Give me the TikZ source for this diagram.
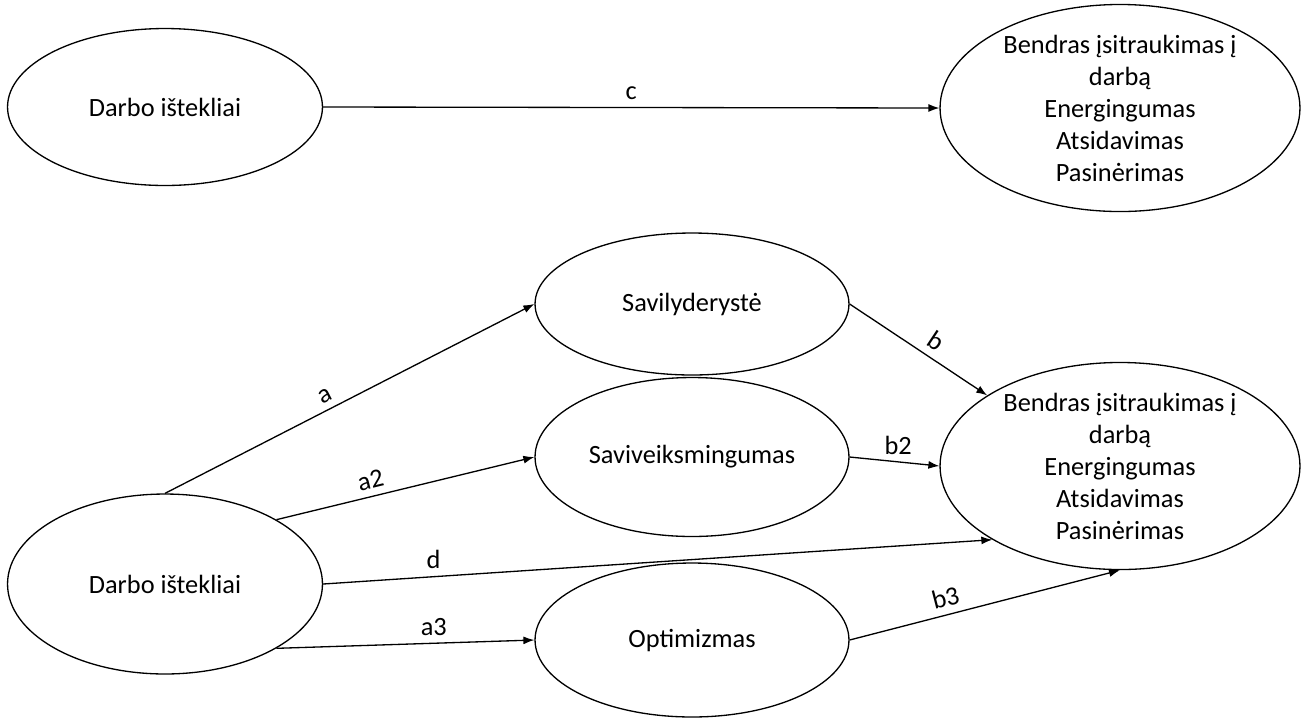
\documentclass[tikz,border=0pt]{standalone}
\usepackage{fontspec}
\setmainfont{Carlito}
\usetikzlibrary{arrows.meta,shapes.geometric}

\tikzset{
  var/.style={draw,ellipse,inner sep=0pt,align=center,
    font=\fontsize{15}{18.2}\selectfont},
  path/.style={-{Latex[length=2.2mm,width=1.6mm]}},
  lbl/.style={font=\fontsize{15}{18}\selectfont,inner sep=4pt}
}

\begin{document}
\begin{tikzpicture}[x=0.02cm,y=-0.02cm,line width=0.75pt]
    \useasboundingbox (0,0) rectangle (1305,718);
    % total effect
    \node[var,minimum width=6.3cm,minimum height=3.14cm] (resTop) at (165,107) {Darbo ištekliai};
    \node[var,minimum width=7.2cm,minimum height=3.98cm] (engTop) at (1120,108)
      {Bendras įsitraukimas į\\darbą\\Energingumas\\Atsidavimas\\Pasinėrimas};
    \draw[path] (resTop.east) -- (engTop.west) node[midway,above,lbl]{c};
    % mediators
    \node[var,minimum width=6.3cm,minimum height=3.6cm] (res) at (165,584) {Darbo ištekliai};
    \node[var,minimum width=6.28cm,minimum height=2.84cm] (selfLead) at (692,304) {Savilyderystė};
    \node[var,minimum width=6.28cm,minimum height=3.18cm] (selfEff) at (692,457) {Saviveiksmingumas};
    \node[var,minimum width=6.28cm,minimum height=3.08cm] (optim) at (692,640) {Optimizmas};
    \node[var,minimum width=7.2cm,minimum height=3.94cm] (eng) at (1120,466)
      {Bendras įsitraukimas į\\darbą\\Energingumas\\Atsidavimas\\Pasinėrimas};
    % a paths
    \draw[path] (res.north) -- (selfLead.west) node[pos=0.45,above,sloped,lbl]{a};
    \draw[path] (res.30) -- (selfEff.west) node[pos=0.38,above,sloped,lbl]{a2};
    \draw[path] (res.-30) -- (optim.west) node[pos=0.61,above,lbl]{a3};
    % direct path
    \draw[path] (res.east) -- (eng.210) node[pos=0.165,above,lbl]{d};
    % b paths
    \draw[path] (selfLead.east) -- (eng.152) node[pos=0.56,above,sloped,lbl]{b};
    \draw[path] (selfEff.east) -- (eng.west) node[pos=0.54,above,lbl]{b2};
    \draw[path] (optim.east) -- (eng.south) node[pos=0.37,above,sloped,lbl]{b3};
  \end{tikzpicture}
\end{document}
